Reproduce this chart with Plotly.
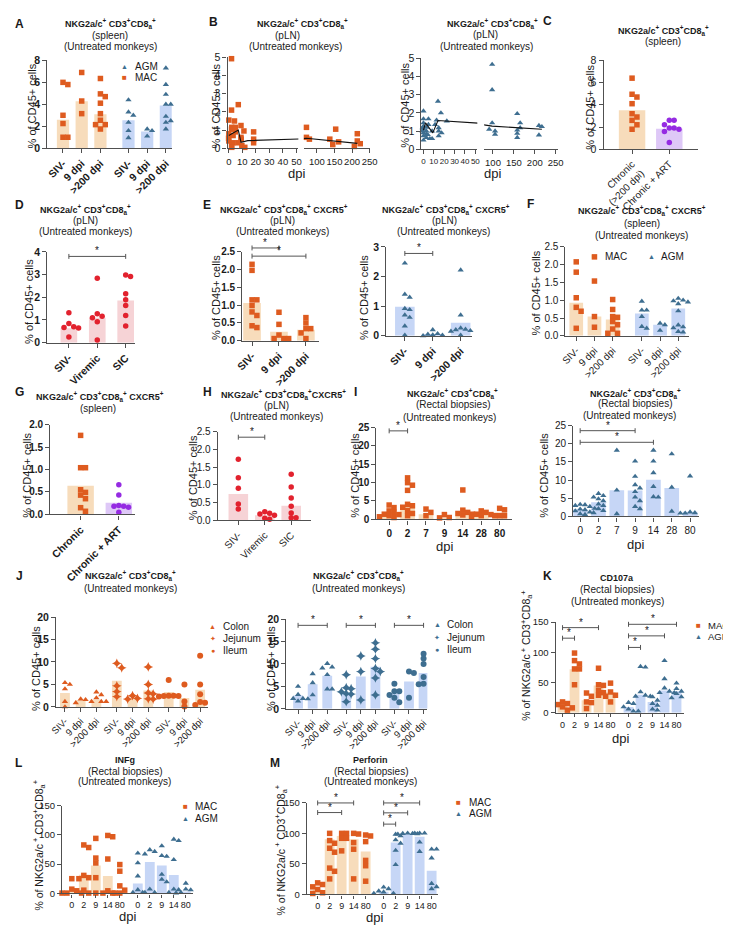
import plotly.graph_objects as go

W, H = 731, 925
FONT = "Liberation Sans, Arial, Helvetica, sans-serif"
TXT = "#1a1a1a"
AXC = "#505050"
MAC_C, MAC_BAR = "#de5b1f", "#f7dcbb"
AGM_C, AGM_BAR = "#3e6e90", "#c6d6f6"
ART_C, ART_BAR = "#952be2", "#dec8f7"
RED_C, RED_BAR = "#e2222e", "#f6d3d6"

# ======================= DATA =======================
# A  spleen, untreated
A_ticks = ["SIV-", "9 dpi", ">200 dpi", "SIV-", "9 dpi", ">200 dpi"]
A_mac_pts = [[6.0, 5.8, 3.0, 2.25, 1.0, 1.0], [6.9, 4.3, 3.15],
             [6.35, 4.95, 4.7, 4.1, 3.15, 2.55, 2.15, 2.15, 1.75]]
A_mac_bar = [2.6, 4.27, 3.1]
A_agm_pts = [[4.4, 3.3, 3.0, 2.35, 1.6, 0.95], [1.75, 1.6, 1.1],
             [7.3, 5.8, 4.9, 4.0, 4.0, 2.9, 2.5, 2.35, 1.75]]
A_agm_bar = [2.55, 1.53, 3.9]

# B  pLN time course
B_mac_dpi = [2, 2, 0, 2, 0, 2, 0, 1, 2, 0, 1, 2, 0,
             7, 7, 7, 7, 9, 9, 9, 9, 14, 14, 14, 14, 14,
             70, 70, 70, 70, 145, 145, 145, 145, 215, 215, 215, 215]
B_mac_val = [4.93, 2.1, 1.55, 1.5, 1.15, 1.05, 0.8, 0.7, 0.55, 0.4, 0.3, 0.15, 0.05,
             2.4, 1.15, 0.9, 0.5, 1.25, 0.95, 0.6, 0.3, 0.9, 0.5, 0.3, 0.15, 0.05,
             1.15, 1.0, 0.6, 0.5, 1.05, 0.5, 0.35, 0.2, 0.8, 0.4, 0.25, 0.1]
B_mac_line_dpi = [0, 2, 7, 9, 14, 70, 145, 215]
B_mac_line_val = [0.7, 0.8, 1.0, 0.33, 0.42, 0.55, 0.42, 0.27]
B_agm_dpi = [0] * 13 + [2] * 5 + [7, 7, 9, 9, 9, 9, 9] + [14] * 6 + [98] * 6 + [158] * 6 + [217] * 3
B_agm_val = [2.1, 1.67, 1.6, 1.45, 1.27, 1.2, 1.1, 1.0, 0.9, 0.82, 0.73, 0.64, 0.5,
             1.67, 1.55, 1.36, 1.18, 1.0,
             1.6, 0.8, 1.18, 1.0, 0.9, 0.73, 0.58,
             2.64, 2.0, 1.55, 1.36, 1.0, 0.58,
             4.67, 3.27, 1.45, 1.1, 1.0, 0.82,
             1.96, 1.45, 1.18, 1.05, 0.87, 0.64,
             1.3, 1.24, 0.78]
B_agm_line_dpi = [0, 2, 9, 14, 98, 158, 217]
B_agm_line_val = [1.05, 1.45, 0.9, 1.58, 1.27, 1.18, 1.1]
B_seg1_ticks = [0, 10, 20, 30, 40, 50]
B_seg2_ticks = [100, 150, 200, 250]

# C  spleen chronic vs ART
C_ticks = ["Chronic<br>(>200 dpi)", "Chronic + ART"]
C_chr_pts = [6.4, 4.95, 4.7, 4.1, 3.2, 2.9, 2.6, 2.2, 1.8]
C_art_pts = [2.6, 2.6, 2.2, 1.9, 1.9, 1.8, 1.6, 0.6]
C_bar = [3.5, 1.84]

# D  pLN
D_ticks = ["SIV-", "Viremic", "SIC"]
D_pts = [[1.32, 0.84, 0.7, 0.67, 0.65, 0.25], [2.84, 1.27, 1.16, 1.1, 0.92, 0.12],
         [2.98, 2.91, 2.15, 1.89, 1.64, 1.2, 0.74]]
D_bar = [0.63, 1.1, 1.86]
D_sig = [(0, 2, 3.8)]

# E  pLN CXCR5+
E_ticks = ["SIV-", "9 dpi", ">200 dpi"]
E_mac_pts = [[2.15, 1.98, 1.15, 1.15, 0.99, 0.81, 0.71, 0.42, 0.37],
             [0.8, 0.46, 0.16, 0.06, 0.06, 0.06], [0.65, 0.5, 0.34, 0.34, 0.22, 0.06]]
E_mac_bar = [1.06, 0.25, 0.31]
E_mac_sig = [(0, 1, 2.61), (0, 2, 2.38)]
E_agm_pts = [[2.45, 1.4, 1.3, 0.92, 0.88, 0.7, 0.62, 0.33, 0.02],
             [0.2, 0.07, 0.03, 0.05, 0.02, 0.0],
             [2.22, 0.7, 0.26, 0.22, 0.2, 0.15, 0.17, 0.14, 0.02]]
E_agm_bar = [0.98, 0.04, 0.44]
E_agm_sig = [(0, 1, 2.78)]

# F  spleen CXCR5+
F_ticks = ["SIV-", "9 dpi", ">200 dpi", "SIV-", "9 dpi", ">200 dpi"]
F_mac_pts = [[2.08, 1.79, 1.07, 0.8, 0.69, 0.21], [2.22, 1.54, 0.54, 0.24],
             [1.02, 0.74, 0.54, 0.52, 0.4, 0.31, 0.19, 0.07, 0.07]]
F_mac_bar = [0.93, 0.54, 0.46]
F_agm_pts = [[0.97, 0.72, 0.72, 0.54, 0.26, 0.21], [0.35, 0.31, 0.15],
             [1.05, 1.0, 0.98, 0.95, 0.9, 0.7, 0.3, 0.25, 0.22, 0.12, 0.1]]
F_agm_bar = [0.63, 0.31, 0.77]

# G  spleen CXCR5+ chronic vs ART
G_ticks = ["Chronic", "Chronic + ART"]
G_chr_pts = [1.76, 1.04, 1.04, 0.55, 0.49, 0.43, 0.35, 0.15, 0.07]
G_art_pts = [0.66, 0.43, 0.2, 0.18, 0.18, 0.16, 0.05]
G_bar = [0.64, 0.26]

# H  pLN CXCR5+
H_ticks = ["SIV-", "Viremic", "SIC"]
H_pts = [[1.72, 1.2, 0.9, 0.46, 0.32], [0.24, 0.2, 0.18, 0.14, 0.06, 0.03],
         [1.3, 0.94, 0.63, 0.4, 0.21, 0.07, 0.07]]
H_bar = [0.74, 0.14, 0.41]
H_sig = [(0, 1, 2.34)]

# I  rectal biopsies
I_ticks = ["0", "2", "7", "9", "14", "28", "80"]
I_mac_pts = [[3.9, 3.2, 2.3, 1.9, 1.4, 1.3, 1.0, 0.7, 0.5],
             [11.3, 10.0, 9.3, 7.9, 4.1, 3.7, 3.3, 2.4, 1.6, 1.0],
             [2.8, 1.9, 1.0], [1.3, 0.5, 0.4], [8.0, 2.5, 1.9, 1.6, 1.4, 1.2],
             [2.3, 1.9, 1.4, 1.3, 1.0, 0.7], [3.0, 2.6, 1.0, 1.0, 1.0]]
I_mac_bar = [1.4, 3.9, 1.4, 0.5, 2.1, 1.4, 1.9]
I_mac_sig = [(0, 1, 24.1)]
I_agm_pts = [[3.3, 3.2, 3.0, 2.7, 2.5, 2.2, 2.0, 1.8, 1.5, 1.2, 1.0, 0.7, 0.5],
             [6.3, 5.7, 5.3, 4.8, 4.3, 3.4, 3.0, 2.1, 1.6, 1.0],
             [18.2, 7.2, 0.7], [15.2, 11.0, 8.7, 7.8, 6.8, 5.3, 4.3, 2.7, 2.1],
             [18.2, 15.2, 12.0, 8.2, 5.3, 5.4], [17.2, 8.0, 1.4],
             [11.1, 1.2, 1.0, 0.9, 0.9, 0.9]]
I_agm_bar = [2.0, 3.9, 7.2, 7.1, 10.1, 7.8, 1.3]
I_agm_sig = [(0, 3, 23.6), (0, 4, 20.4)]

# J  colon / jejunum / ileum
J_ticks = ["SIV-", "9 dpi", ">200 dpi"] * 3
J_tissues = ["Colon", "Jejunum", "Ileum"]
J_mac_pts = [[5.0, 5.4, 4.0, 1.2, 0.0], [1.75, 0.9, 1.6], [3.3, 2.7, 2.0, 1.2, 1.2, 1.2],
             [9.7, 8.7, 4.7, 3.4, 2.3], [2.5, 1.9, 1.75], [8.9, 5.0, 3.1, 2.9, 1.8, 1.75],
             [6.0, 2.5, 2.5, 2.4, 2.4, 2.3], [5.0, 1.2, 0.1], [11.4, 5.0, 2.8, 1.1, 0.9, 0.4]]
J_mac_bar = [3.1, 1.5, 1.6, 5.8, 2.0, 3.65, 3.3, 2.0, 3.8]
J_agm_pts = [[5.0, 3.2, 2.3, 2.3, 2.2, 1.75], [7.8, 5.8, 3.1], [10.1, 9.3, 9.1, 7.6, 4.4, 4.4],
             [7.6, 4.7, 4.5, 3.8, 3.4, 3.3, 1.6], [11.8, 8.3, 2.0],
             [14.7, 13.3, 11.2, 9.0, 8.3, 6.9, 3.1],
             [5.6, 3.9, 3.9, 3.1, 2.5, 1.5], [8.3, 8.0, 2.5],
             [12.3, 11.2, 10.0, 7.1, 5.6, 5.6, 5.5]]
J_agm_bar = [3.0, 5.5, 7.4, 3.6, 7.2, 9.4, 3.4, 6.1, 8.0]
J_agm_sig = [(0, 2, 18.6), (3.3, 5.3, 18.6), (6.6, 8.6, 18.6)]

# K  CD107a
K_ticks = ["0", "2", "9", "14", "80"] * 2
K_mac_pts = [[18, 15.3, 13.6, 9.8, 8.2, 4.4], [98.7, 86.2, 80.7, 72.5, 72.5, 46.4],
             [32.7, 27.3, 18, 16.9, 7.1], [73.6, 46.4, 45.3, 37, 33.3, 29],
             [49, 34.4, 29, 27.3, 18]]
K_mac_bar = [13.6, 72, 20.7, 45, 34]
K_agm_pts = [[17, 15.3, 9.8, 6, 2.7, 2.7], [76.4, 75.3, 34.4, 29, 27.3, 27.3],
             [26.2, 20.7, 15.3, 12.5, 6, 4.4], [86.2, 56.2, 40.9, 35.5, 33.3, 33.3],
             [49, 39.8, 35.5, 31.6, 26.2, 24.5]]
K_agm_bar = [9.8, 30, 18, 37, 35.5]
K_sig = [(0, 3, 140.7), (0, 1, 123.3), (5.5, 9.5, 146.2), (5.5, 8.5, 127.1), (5.5, 6.5, 108)]

# L  INFg
L_mac_pts = [[25.2, 7.3, 4.5, 0.6, 0.6, 0.6], [82.8, 78.4, 30.8, 26.9, 25.2, 5.6, 0.6],
             [94, 60.4, 52, 26.9, 0.6], [99, 96.8, 58.8, 4.5, 0.6, 0.6],
             [49.3, 38, 12.9, 5.6, 0.6, 0.6]]
L_mac_bar = [3.4, 32, 47.6, 29.7, 3]
L_agm_pts = [[68.8, 52, 29.7, 6.2, 1.5, 1.5], [74.4, 71.6, 67.2, 7.3, 1.5, 1.5],
             [81.2, 64.4, 63.2, 32.5, 24, 19.6], [92.4, 90, 57.6, 7.3, 6.2, 1.5],
             [17.4, 7.3, 6, 1.5, 0.6, 0.6]]
L_agm_bar = [16.8, 53.7, 47.6, 31.3, 3.4]

# M  Perforin
M_mac_pts = [[18.9, 16.2, 12.4, 8.1, 2.7, 1.6],
             [99.8, 88, 83.6, 75.5, 69, 43, 37.8, 25.4],
             [99.8, 99.8, 91.7, 91.7, 71.2], [99.8, 98.7, 84.7, 73.9, 25.4],
             [97.1, 95.5, 86.3, 55.6, 46.9, 21.6]]
M_mac_bar = [8, 90, 95.5, 90, 70]
M_agm_pts = [[11.9, 9.2, 5.4, 3.8, 1.6, 1.6], [98.2, 95.5, 89, 83.6, 71.8, 48.6],
             [100, 99.5, 99, 99.5, 98.5], [100, 100, 100, 85.3, 70],
             [73.9, 73.9, 59.4, 17.8, 12.4, 9.2]]
M_agm_bar = [4.3, 84.7, 98.7, 94.4, 38.8]
M_sig = [(0, 3, 149.5), (0, 2, 133.8), (5.5, 8.5, 149.5), (5.5, 7.5, 133.3), (5.5, 6.5, 114.9)]

# ======================= HELPERS =======================
fig = go.Figure()
LAY = {}
ANN = []
SHP = []
AXINFO = {}
TS1, TS2, YLS = 9, 10, 11   # title line 1 / other title lines / y label sizes


def names(i):
    return ("x" if i == 1 else f"x{i}"), ("y" if i == 1 else f"y{i}")


def swarm(vals, ypu, gap):
    order = sorted(range(len(vals)), key=lambda k: -vals[k])
    placed = []
    res = [0.0] * len(vals)
    for k in order:
        yp = vals[k] * ypu
        cands = [0.0]
        for j in range(1, 15):
            cands += [j * gap, -j * gap]
        for c in cands:
            if all(not (abs(yp - py) < gap * 0.95 and abs(c - px) < gap * 0.95) for py, px in placed):
                res[k] = c
                placed.append((yp, c))
                break
    return res


def axes(i, l, r, t, b, p0, u, yr, xtv, xtt, ytv, xangle=0, xb=False, yb=False,
         xs=10, ys=10, yfmt=None, y_of=None, xticklen=4):
    xn, yn = names(i)
    yref = y_of if y_of else yn
    xa = dict(domain=[l / W, r / W], range=[(l - p0) / u, (r - p0) / u], anchor=yref,
              showline=True, linecolor=AXC, linewidth=1.3, ticks="outside", ticklen=xticklen,
              tickwidth=1, tickcolor=AXC, showgrid=False, zeroline=False,
              tickvals=xtv, ticktext=xtt, tickangle=xangle,
              tickfont=dict(size=xs, color=TXT, family=FONT, weight="bold" if xb else "normal"))
    LAY["xaxis" if i == 1 else f"xaxis{i}"] = xa
    if not y_of:
        ya = dict(domain=[1 - b / H, 1 - t / H], range=yr, anchor=xn,
                  showline=True, linecolor=AXC, linewidth=1.3, ticks="outside", ticklen=4,
                  tickwidth=1, tickcolor=AXC, showgrid=False, zeroline=False, tickvals=ytv,
                  tickfont=dict(size=ys, color=TXT, family=FONT, weight="bold" if yb else "normal"))
        if yfmt:
            ya["tickformat"] = yfmt
        LAY["yaxis" if i == 1 else f"yaxis{i}"] = ya
        AXINFO[i] = (yr, b - t)
    return (b - t) / (yr[1] - yr[0])


def bars(i, pos, vals, color, wpx, u):
    xn, yn = names(i)
    fig.add_trace(go.Bar(x=pos, y=vals, width=wpx / u, marker=dict(color=color, line_width=0),
                         xaxis=xn, yaxis=yn, hoverinfo="skip", showlegend=False))


def dots(i, pos, groups, color, symbol, size, ypu, u, gap=None):
    xn, yn = names(i)
    xs, ys = [], []
    for p, vals in zip(pos, groups):
        offs = swarm(vals, ypu, gap if gap else size * 0.9)
        xs += [p + o / u for o in offs]
        ys += list(vals)
    fig.add_trace(go.Scatter(x=xs, y=ys, mode="markers",
                             marker=dict(color=color, symbol=symbol, size=size, line_width=0),
                             xaxis=xn, yaxis=yn, cliponaxis=False, hoverinfo="skip",
                             showlegend=False))


def bracket(i, x0, x1, y, tick=2.5):
    xn, yn = names(i)
    (y0, y1), hpx = AXINFO[i]
    yd = (y - y0) / (y1 - y0)          # position in the y-axis domain
    d = tick / hpx
    SHP.append(dict(type="path", xref=xn, yref=f"{yn} domain",
                    path=f"M {x0},{yd - d} L {x0},{yd + d} M {x0},{yd} L {x1},{yd} M {x1},{yd - d} L {x1},{yd + d}",
                    line=dict(color="#555555", width=1)))
    ANN.append(dict(x=(x0 + x1) / 2, y=yd, xref=xn, yref=f"{yn} domain", text="*", showarrow=False,
                    xanchor="center", yanchor="bottom", yshift=-2,
                    font=dict(size=10, color=TXT, family=FONT)))


def txt(xp, yp, s, size=11, bold=False, angle=0, xa="center", ya="middle", color=TXT):
    ANN.append(dict(x=xp / W, y=1 - yp / H, xref="paper", yref="paper",
                    text=f"<b>{s}</b>" if bold else s, showarrow=False, textangle=angle,
                    xanchor=xa, yanchor=ya, borderpad=0,
                    font=dict(size=size, color=color, family=FONT)))


def legend_item(xp, yp, glyph, gcolor, label, gsize=8, size=10):
    txt(xp, yp, glyph, size=gsize, color=gcolor)
    txt(xp + 9, yp, label, size=size, xa="left")


T1 = "NKG2a/c<sup>+</sup> CD3<sup>+</sup>CD8<sub>a</sub><sup>+</sup>"
TCX = "NKG2a/c<sup>+</sup> CD3<sup>+</sup>CD8<sub>a</sub><sup>+</sup> CXCR5<sup>+</sup>"
TCX2 = "NKG2a/c<sup>+</sup> CD3<sup>+</sup>CD8<sub>a</sub><sup>+</sup>CXCR5<sup>+</sup>"
YL = "% of CD45+ cells"
YL2 = "% of NKG2a/c<sup> +</sup> CD3<sup>+</sup>CD8<sub>a</sub><sup>+</sup>"

# ======================= PANEL A =======================
posA = [0, 1, 2, 3.5, 4.5, 5.5]
ypu = axes(1, 33, 160, 47, 136, 49, 19.1, [0, 8], posA, A_ticks, [0, 2, 4, 6, 8],
           xangle=-45, xb=True, yb=True, xs=10.5, ys=10.5)
bars(1, posA[:3], A_mac_bar, MAC_BAR, 12.5, 19.1)
bars(1, posA[3:], A_agm_bar, AGM_BAR, 12.5, 19.1)
dots(1, posA[:3], A_mac_pts, MAC_C, "square", 5.5, ypu, 19.1)
dots(1, posA[3:], A_agm_pts, AGM_C, "triangle-up", 5.5, ypu, 19.1)
legend_item(112, 53, "▲", AGM_C, "AGM", gsize=7)
legend_item(112, 64, "■", MAC_C, "MAC", gsize=8)
txt(5, 10, "A", 12, True)
txt(97, 10, T1, TS1, True)
txt(97, 22, "(spleen)", TS2)
txt(97, 33, "(Untreated monkeys)", TS2)
txt(17, 93, YL, YLS, angle=-90)

# ======================= PANEL B =======================
ypu = axes(2, 217, 289.3, 44, 136, 218.3, 1.38, [0, 5], B_seg1_ticks, [str(v) for v in B_seg1_ticks],
           [0, 1, 2, 3, 4, 5], xs=9.5, ys=10.5)
axes(3, 295, 362, 44, 136, 308.3 - 100 * 0.358, 0.358, [0, 5], B_seg2_ticks,
     [str(v) for v in B_seg2_ticks], None, xs=9.5, y_of="y2")
for xn, u, keep in [("x2", 1.38, lambda d: d <= 50), ("x3", 0.358, lambda d: d > 50)]:
    sel = [(d, v) for d, v in zip(B_mac_dpi, B_mac_val) if keep(d)]
    xs = [d + o / u for (d, v), o in zip(sel, swarm([v for d, v in sel], ypu, 3.0))]
    fig.add_trace(go.Scatter(x=xs, y=[v for d, v in sel], mode="markers", xaxis=xn, yaxis="y2",
                             marker=dict(symbol="square", size=5.5, color=MAC_C, line_width=0),
                             cliponaxis=False, hoverinfo="skip", showlegend=False))
    fig.add_trace(go.Scatter(x=B_mac_line_dpi, y=B_mac_line_val, mode="lines", xaxis=xn, yaxis="y2",
                             line=dict(color="#111111", width=1.1), cliponaxis=True,
                             hoverinfo="skip", showlegend=False))
ypu = axes(4, 415, 472, 45, 137, 417, 1.06, [0, 5], B_seg1_ticks, [str(v) for v in B_seg1_ticks],
           [0, 1, 2, 3, 4, 5], xs=8, ys=10.5)
axes(5, 479, 554, 45, 137, 488 - 100 * 0.4267, 0.4267, [0, 5], B_seg2_ticks,
     [str(v) for v in B_seg2_ticks], None, xs=9.5, y_of="y4")
for xn, u, keep in [("x4", 1.06, lambda d: d <= 50), ("x5", 0.4267, lambda d: d > 50)]:
    sel = [(d, v) for d, v in zip(B_agm_dpi, B_agm_val) if keep(d)]
    xs = [d + o / u for (d, v), o in zip(sel, swarm([v for d, v in sel], ypu, 3.0))]
    fig.add_trace(go.Scatter(x=xs, y=[v for d, v in sel], mode="markers", xaxis=xn, yaxis="y4",
                             marker=dict(symbol="triangle-up", size=5.5, color=AGM_C, line_width=0),
                             cliponaxis=False, hoverinfo="skip", showlegend=False))
    fig.add_trace(go.Scatter(x=B_agm_line_dpi, y=B_agm_line_val, mode="lines", xaxis=xn, yaxis="y4",
                             line=dict(color="#111111", width=1.1), cliponaxis=True,
                             hoverinfo="skip", showlegend=False))
txt(203, 8, "B", 12, True)
txt(294, 10, T1, TS1, True)
txt(278, 22, "(pLN)", TS2)
txt(286, 33, "(Untreated monkeys)", TS2)
txt(205, 93, YL, YLS, angle=-90)
txt(287, 162, "dpi", 13)
txt(487, 10, T1, TS1, True)
txt(480, 21, "(pLN)", TS2)
txt(481, 33, "(Untreated monkeys)", TS2)
txt(398, 92, YL, YLS, angle=-90)
txt(487, 162, "dpi", 13)

# ======================= PANEL C =======================
ypu = axes(6, 601, 697, 47, 137, 630, 38, [0, 8], [0, 1], C_ticks, [0, 2, 4, 6, 8],
           xangle=-45, xs=10, ys=10.5)
bars(6, [0], [C_bar[0]], MAC_BAR, 27, 38)
bars(6, [1], [C_bar[1]], ART_BAR, 27, 38)
dots(6, [0], [C_chr_pts], MAC_C, "square", 5.5, ypu, 38)
dots(6, [1], [C_art_pts], ART_C, "circle", 5.5, ypu, 38)
txt(544, 7, "C", 12, True)
txt(662, 17, T1, TS1, True)
txt(662, 28, "(spleen)", TS2)
txt(587, 94, YL, YLS, angle=-90)

# ======================= PANEL D =======================
ypu = axes(7, 33, 123, 241, 333, 55, 29, [0, 4], [0, 1, 2], D_ticks, [0, 1, 2, 3, 4],
           xangle=-45, xb=True, yb=True, xs=10.5, ys=10.5)
bars(7, [0, 1, 2], D_bar, RED_BAR, 17, 29)
dots(7, [0, 1, 2], D_pts, RED_C, "circle", 5.5, ypu, 29)
for a, b_, y in D_sig:
    bracket(7, a, b_, y)
txt(5, 194, "D", 12, True)
txt(72, 198, T1, TS1, True)
txt(72, 209, "(pLN)", TS2)
txt(72, 220, "(Untreated monkeys)", TS2)
txt(15, 291, YL, YLS, angle=-90)

# ======================= PANEL E =======================
ypu = axes(8, 232, 310, 241, 331, 242, 27.5, [0, 2.5], [0, 1, 2], E_ticks,
           [0, 0.5, 1, 1.5, 2, 2.5], xangle=-45, xb=True, yb=True, xs=10.5, ys=10, yfmt=".1f")
bars(8, [0, 1, 2], E_mac_bar, MAC_BAR, 18, 27.5)
dots(8, [0, 1, 2], E_mac_pts, MAC_C, "square", 5.5, ypu, 27.5)
for a, b_, y in E_mac_sig:
    bracket(8, a, b_, y)
ypu = axes(9, 379, 467, 236, 326, 398, 28.5, [0, 3], [0, 1, 2], E_ticks, [0, 1, 2, 3],
           xangle=-45, xb=True, yb=True, xs=10.5, ys=10.5)
bars(9, [0, 1, 2], E_agm_bar, AGM_BAR, 20, 28.5)
dots(9, [0, 1, 2], E_agm_pts, AGM_C, "triangle-up", 5.5, ypu, 28.5)
for a, b_, y in E_agm_sig:
    bracket(9, a, b_, y)
txt(196, 194, "E", 12, True)
txt(275, 198, TCX, TS1, True)
txt(273, 209, "(pLN)", TS2)
txt(273, 220, "(Untreated monkeys)", TS2)
txt(206, 287, YL, YLS, angle=-90)
txt(440, 198, TCX, TS1, True)
txt(438, 209, "(pLN)", TS2)
txt(437, 220, "(Untreated monkeys)", TS2)
txt(357, 287, YL, YLS, angle=-90)

# ======================= PANEL F =======================
posF = [0, 1, 2, 3.6, 4.6, 5.6]
ypu = axes(10, 562, 688, 236, 326, 573, 18.6, [0, 2.5], posF, F_ticks,
           [0, 0.5, 1, 1.5, 2, 2.5], xangle=-45, xs=10, ys=10, yfmt=".1f")
bars(10, posF[:3], F_mac_bar, MAC_BAR, 14, 18.6)
bars(10, posF[3:], F_agm_bar, AGM_BAR, 14, 18.6)
dots(10, posF[:3], F_mac_pts, MAC_C, "square", 5.5, ypu, 18.6)
dots(10, posF[3:], F_agm_pts, AGM_C, "triangle-up", 5.5, ypu, 18.6)
legend_item(592, 246, "■", MAC_C, "MAC", gsize=8)
legend_item(650, 246, "▲", AGM_C, "AGM", gsize=7)
txt(526, 193, "F", 12, True)
txt(640, 199, TCX, TS1, True)
txt(640, 212, "(spleen)", TS2)
txt(640, 224, "(Untreated monkeys)", TS2)
txt(532, 283, YL, YLS, angle=-90)

# ======================= PANEL G =======================
ypu = axes(11, 36, 123, 416, 507, 67, 39, [0, 2], [0, 1], G_ticks, [0, 0.5, 1, 1.5, 2],
           xangle=-45, xb=True, yb=True, xs=10.5, ys=10, yfmt=".1f")
bars(11, [0], [G_bar[0]], MAC_BAR, 27, 39)
bars(11, [1], [G_bar[1]], ART_BAR, 27, 39)
dots(11, [0], [G_chr_pts], MAC_C, "square", 5.5, ypu, 39)
dots(11, [1], [G_art_pts], ART_C, "circle", 5.5, ypu, 39)
txt(5, 383, "G", 12, True)
txt(87, 388, TCX, TS1, True)
txt(85, 400, "(spleen)", TS2)
txt(12, 467, YL, YLS, angle=-90)

# ======================= PANEL H =======================
ypu = axes(12, 207, 302, 423, 513, 228, 27, [0, 2.5], [0, 1, 2], H_ticks,
           [0, 0.5, 1, 1.5, 2, 2.5], xangle=-45, xs=10, ys=10, yfmt=".1f")
bars(12, [0, 1, 2], H_bar, RED_BAR, 20, 27)
dots(12, [0, 1, 2], H_pts, RED_C, "circle", 5.5, ypu, 27)
for a, b_, y in H_sig:
    bracket(12, a, b_, y)
txt(197, 383, "H", 12, True)
txt(274, 386, TCX2, TS1, True)
txt(267, 397, "(pLN)", TS2)
txt(267, 408, "(Untreated monkeys)", TS2)
txt(182, 470, YL, YLS, angle=-90)

# ======================= PANEL I =======================
posI = [0, 1, 2, 3, 4, 5, 6]
ypu = axes(13, 369, 507, 419, 512, 382, 18.8, [0, 25], posI, I_ticks, [0, 5, 10, 15, 20, 25],
           xb=True, yb=True, xs=10, ys=10)
bars(13, posI, I_mac_bar, MAC_BAR, 15, 18.8)
dots(13, posI, I_mac_pts, MAC_C, "square", 5.5, ypu, 18.8)
for a, b_, y in I_mac_sig:
    bracket(13, a, b_, y)
ypu = axes(14, 570, 698, 417, 509, 577, 18.7, [0, 25], posI, I_ticks, [0, 5, 10, 15, 20, 25],
           xs=10, ys=10)
bars(14, posI, I_agm_bar, AGM_BAR, 15, 18.7)
dots(14, posI, I_agm_pts, AGM_C, "triangle-up", 5.5, ypu, 18.7)
for a, b_, y in I_agm_sig:
    bracket(14, a, b_, y)
txt(348, 383, "I", 12, True)
txt(447, 384, T1, TS1, True)
txt(447, 396, "(Rectal biopsies)", TS2)
txt(444, 409, "(Untreated monkeys)", TS2)
txt(347, 467, YL, YLS, angle=-90)
txt(439, 540, "dpi", 13)
txt(633, 384, T1, TS1, True)
txt(633, 395, "(Rectal biopsies)", TS2)
txt(627, 407, "(Untreated monkeys)", TS2)
txt(540, 467, YL, YLS, angle=-90)
txt(633, 537, "dpi", 13)

# ======================= PANEL J =======================
posJ = [0, 1, 2, 3.3, 4.3, 5.3, 6.6, 7.6, 8.6]
J_symbols = ["triangle-up", "star-diamond", "circle"]
J_sizes = [5.5, 7, 6]
ypu = axes(15, 42, 197, 611, 702, 51, 16.05, [0, 20], posJ, J_ticks, [0, 5, 10, 15, 20],
           xangle=-45, yb=True, xs=9.5, ys=10.5)
bars(15, posJ, J_mac_bar, MAC_BAR, 10, 16.05)
for k in range(3):
    dots(15, posJ[3 * k:3 * k + 3], J_mac_pts[3 * k:3 * k + 3], MAC_C, J_symbols[k], J_sizes[k],
         ypu, 16.05, gap=5)
ypu = axes(16, 277, 421, 613, 704, 289, 14.9, [0, 20], posJ, J_ticks, [0, 5, 10, 15, 20],
           xangle=-45, yb=True, xs=9.5, ys=10.5)
bars(16, posJ, J_agm_bar, AGM_BAR, 10, 14.9)
for k in range(3):
    dots(16, posJ[3 * k:3 * k + 3], J_agm_pts[3 * k:3 * k + 3], AGM_C, J_symbols[k], J_sizes[k],
         ypu, 14.9, gap=5)
for a, b_, y in J_agm_sig:
    bracket(16, a, b_, y)
J_glyphs = ["▲", "✦", "●"]
for k in range(3):
    legend_item(202, 621 + 12 * k, J_glyphs[k], MAC_C, J_tissues[k], gsize=7)
    legend_item(431, 619 + 12.5 * k, J_glyphs[k], AGM_C, J_tissues[k], gsize=7)
txt(5, 569, "J", 12, True)
txt(118, 569, T1, TS1, True)
txt(118, 582, "(Untreated monkeys)", TS2)
txt(22, 663, YL, YLS, angle=-90)
txt(351, 569, T1, TS1, True)
txt(351, 582, "(Untreated monkeys)", TS2)
txt(262, 663, YL, YLS, angle=-90)

# ======================= PANEL K / L / M =======================
posK = [0, 1, 2, 3, 4, 5.5, 6.5, 7.5, 8.5, 9.5]
for i, l, r, t, b, p0, mp, mb, ap, ab, sig in [
        (17, 552, 683, 616, 708, 559, K_mac_pts, K_mac_bar, K_agm_pts, K_agm_bar, K_sig),
        (18, 48, 182, 802, 891, 58, L_mac_pts, L_mac_bar, L_agm_pts, L_agm_bar, []),
        (19, 298, 432, 799, 892, 309, M_mac_pts, M_mac_bar, M_agm_pts, M_agm_bar, M_sig)]:
    ypu = axes(i, l, r, t, b, p0, 12.25, [0, 150], posK, K_ticks, [0, 50, 100, 150],
               xs=9, ys=9.5, xticklen=3)
    bars(i, posK[:5], mb, MAC_BAR, 10, 12.25)
    bars(i, posK[5:], ab, AGM_BAR, 10, 12.25)
    dots(i, posK[:5], mp, MAC_C, "square", 5.5, ypu, 12.25, gap=5)
    dots(i, posK[5:], ap, AGM_C, "triangle-up", 5.5, ypu, 12.25, gap=5)
    for a, b_, y in sig:
        bracket(i, a, b_, y)

txt(544, 569, "K", 12, True)
txt(615, 571, "CD107a", TS1, True)
txt(615, 583, "(Rectal biopsies)", TS2)
txt(615, 595, "(Untreated monkeys)", TS2)
txt(522, 650, YL2, 10.5, angle=-90)
txt(618, 734, "dpi", 13)
legend_item(698, 620, "■", MAC_C, "MAC", gsize=8, size=9.5)
legend_item(698, 631, "▲", AGM_C, "AGM", gsize=7, size=9.5)

txt(4, 759, "L", 12, True)
txt(112, 756, "INFg", TS1, True)
txt(112, 767, "(Rectal biopsies)", TS2)
txt(112, 778, "(Untreated monkeys)", TS2)
txt(25, 842, YL2, 10.5, angle=-90)
txt(115, 914, "dpi", 13)
legend_item(174, 803, "■", MAC_C, "MAC", gsize=8)
legend_item(174, 815, "▲", AGM_C, "AGM", gsize=7)

txt(265, 759, "M", 12, True)
txt(363, 756, "Perforin", TS1, True)
txt(363, 767, "(Rectal biopsies)", TS2)
txt(363, 778, "(Untreated monkeys)", TS2)
txt(272, 847, YL2, 10.5, angle=-90)
txt(367, 915, "dpi", 13)
legend_item(453, 799, "■", MAC_C, "MAC", gsize=8)
legend_item(453, 810, "▲", AGM_C, "AGM", gsize=7)

fig.update_layout(width=W, height=H, margin=dict(l=0, r=0, t=0, b=0), autosize=False,
                  paper_bgcolor="white", plot_bgcolor="white", barmode="overlay",
                  showlegend=False, font=dict(family=FONT, color=TXT),
                  annotations=ANN, shapes=SHP, **LAY)
fig.write_html("out.html")
